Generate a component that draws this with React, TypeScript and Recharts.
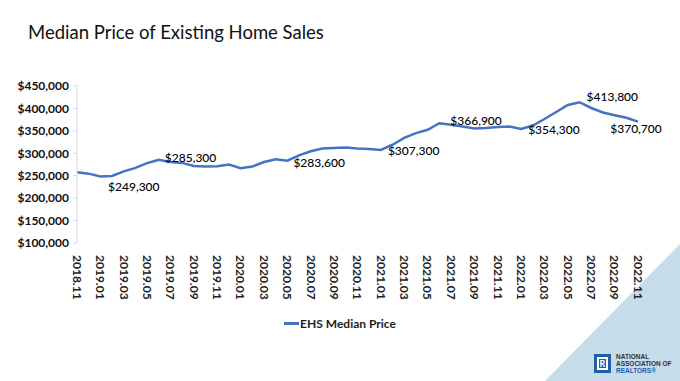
import React from 'react';
import { LineChart, Line, XAxis, YAxis, Legend, LabelList } from 'recharts';

const months = [
  '2018.11', '2018.12', '2019.01', '2019.02', '2019.03', '2019.04', '2019.05', '2019.06', '2019.07', '2019.08',
  '2019.09', '2019.10', '2019.11', '2019.12', '2020.01', '2020.02', '2020.03', '2020.04', '2020.05', '2020.06',
  '2020.07', '2020.08', '2020.09', '2020.10', '2020.11', '2020.12', '2021.01', '2021.02', '2021.03', '2021.04',
  '2021.05', '2021.06', '2021.07', '2021.08', '2021.09', '2021.10', '2021.11', '2021.12', '2022.01', '2022.02',
  '2022.03', '2022.04', '2022.05', '2022.06', '2022.07', '2022.08', '2022.09', '2022.10', '2022.11',
];

const medianPrice = [
  257700, 254600, 248500, 249300, 259800, 267500, 278100, 285300, 280600, 278600,
  271600, 270800, 271000, 274700, 266600, 270400, 280600, 286800, 283600, 295300,
  304600, 310600, 311800, 313000, 310800, 309800, 307300, 319000, 334500, 345000,
  352500, 366900, 363800, 359600, 355500, 356500, 358500, 359500, 354300, 362000,
  376500, 392000, 407600, 413800, 401000, 391000, 384800, 379100, 370700,
];

// months that carry a value label
const labeledMonths = ['2019.02', '2019.06', '2020.05', '2021.01', '2021.06', '2022.01', '2022.06', '2022.11'];

const yTicks = [100000, 150000, 200000, 250000, 300000, 350000, 400000, 450000];

const data = months.map((m, i) => ({ month: m, price: medianPrice[i] }));

const blue = '#4472C4';
const font = 'Lato, "Open Sans", sans-serif';

const money = (v: number) => '$' + v.toLocaleString('en-US');

// where each label sits relative to its point
const labelPos: Record<string, { dx: number; dy: number; anchor: string }> = {
  '2019.02': { dx: -4, dy: 11, anchor: 'start' },
  '2019.06': { dx: 6, dy: -2, anchor: 'start' },
  '2020.05': { dx: 6, dy: 2, anchor: 'start' },
  '2021.01': { dx: 7, dy: 1, anchor: 'start' },
  '2021.06': { dx: 11, dy: -2, anchor: 'start' },
  '2022.01': { dx: 7, dy: 1, anchor: 'start' },
  '2022.06': { dx: 7, dy: -5, anchor: 'start' },
  '2022.11': { dx: -2, dy: 7, anchor: 'middle' },
};

const PointLabel = (props: any) => {
  const { x, y, index } = props;
  const m = months[index];
  if (!labeledMonths.includes(m)) return null;
  const p = labelPos[m];
  return (
    <text x={x + p.dx} y={y + p.dy} dy="0.35em" textAnchor={p.anchor} fontSize={12} fontWeight={500} fill="#000" fontFamily={font}>
      {money(medianPrice[index])}
    </text>
  );
};

const MonthTick = (props: any) => {
  const { x, y, payload } = props;
  return (
    <text
      x={x}
      y={y}
      transform={`rotate(90, ${x}, ${y})`}
      textAnchor="start"
      dy="0.35em"
      fontSize={12}
      fontWeight={700}
      fill="#222"
      fontFamily={font}
    >
      {payload.value}
    </text>
  );
};

const LegendContent = () => (
  <div style={{ display: 'flex', justifyContent: 'center', alignItems: 'center', fontFamily: font }}>
    <span style={{ display: 'inline-block', width: 15, height: 3, background: blue, marginRight: 1 }} />
    <span style={{ fontSize: 12, fontWeight: 700, color: '#222' }}>EHS Median Price</span>
  </div>
);

export default function App() {
  return (
    <div style={{ position: 'absolute', left: 0, top: 0, width: 680, height: 381, background: '#fff', overflow: 'hidden', fontFamily: font }}>
      <svg width={680} height={381} style={{ position: 'absolute', left: 0, top: 0 }}>
        <polygon points="680,244 680,381 545,381" fill="#c5dcea" />
      </svg>
      <div style={{ position: 'absolute', left: 28, top: 21, fontSize: 18.5, color: '#111' }}>
        Median Price of Existing Home Sales
      </div>
      <LineChart width={680} height={381} data={data} margin={{ top: 86, right: 42, left: 0, bottom: 68 }}>
        <XAxis
          dataKey="month"
          interval={1}
          axisLine={false}
          tickLine={false}
          tick={<MonthTick />}
          height={70}
          tickMargin={6}
        />
        <YAxis
          domain={[100000, 450000]}
          ticks={yTicks}
          tickFormatter={money}
          width={77}
          axisLine={{ stroke: '#d9d9d9' }}
          tickLine={{ stroke: '#d9d9d9' }}
          tickSize={4}
          tickMargin={4}
          tick={{ fontSize: 12, fontWeight: 700, fill: '#111', fontFamily: font }}
        />
        <Legend
          verticalAlign="middle"
          align="center"
          content={<LegendContent />}
          wrapperStyle={{ top: 316, left: 0, width: 680 }}
        />
        <Line
          type="linear"
          dataKey="price"
          name="EHS Median Price"
          stroke={blue}
          strokeWidth={2.5}
          dot={false}
          isAnimationActive={false}
        >
          <LabelList dataKey="price" content={<PointLabel />} />
        </Line>
      </LineChart>
      <div style={{ position: 'absolute', left: 594, top: 354, width: 17, height: 19, background: '#1f5fa8' }}>
        <div style={{ position: 'absolute', left: 3, top: 3, width: 11, height: 13, background: '#fff' }} />
        <div style={{ position: 'absolute', left: 5, top: 5, width: 7, height: 9, background: '#1f5fa8', fontSize: 9, color: '#fff', lineHeight: '9px', textAlign: 'center', fontWeight: 700 }}>R</div>
      </div>
      <div style={{ position: 'absolute', left: 616, top: 353, fontSize: 6.5, lineHeight: '7px', fontWeight: 700, fontFamily: '"Liberation Sans", Arial, sans-serif' }}>
        <div style={{ color: '#333' }}>NATIONAL</div>
        <div style={{ color: '#333' }}>ASSOCIATION OF</div>
        <div style={{ color: '#1f5fa8' }}>REALTORS®</div>
      </div>
    </div>
  );
}
